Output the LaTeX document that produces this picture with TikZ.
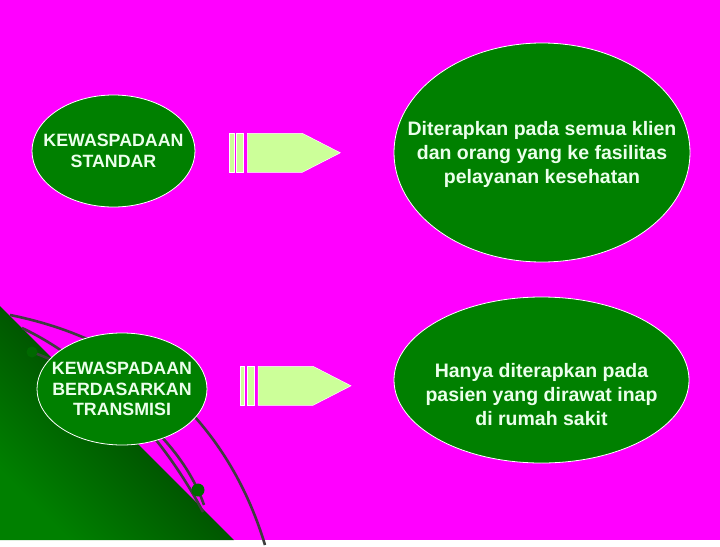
\documentclass[tikz,border=0pt]{standalone}
\usepackage{fontspec}
\setmainfont{Liberation Sans}
\usetikzlibrary{calc,shapes.geometric}
\definecolor{latar}{RGB}{255,0,255}
\definecolor{hijau}{RGB}{0,128,0}
\definecolor{hijautua}{RGB}{0,46,0}
\definecolor{hijaumuda}{RGB}{204,255,153}
\definecolor{teks}{RGB}{235,255,235}
\definecolor{garis}{RGB}{62,62,62}
\definecolor{titik}{RGB}{0,105,0}
\tikzset{
  bubble/.style={ellipse, fill=hijau, draw=white, line width=0.8pt, inner sep=0pt},
  tekskiri/.style={text=teks, align=center, font=\fontsize{17.8}{20.5}\selectfont\bfseries},
  tekskanan/.style={text=teks, align=center, font=\fontsize{19.5}{24}\selectfont\bfseries},
  panah/.style={fill=hijaumuda, draw=white, line width=0.5pt},
  lengkung/.style={draw=garis, line width=2.6pt}
}
\def\blockarrow(#1,#2){%
  \draw[panah] (#1,#2-19.5) rectangle ++(4.5,39);
  \draw[panah] (#1+7,#2-19.5) rectangle ++(7,39);
  \draw[panah] (#1+18,#2-19.5) -- ++(55,0) -- (#1+111,#2) -- (#1+73,#2+19.5) -- ++(-55,0) -- cycle;
}

\begin{document}
\begin{tikzpicture}[x=1pt, y=-1pt]
		%%%%% START %%%%%
		\fill[latar] (0,0) rectangle (720,540);
		
		\shade[bottom color=hijau, middle color=hijautua, top color=hijautua, shading angle=-45] (0,306) -- (234,540) -- (0,540) -- cycle;
		
		\draw[lengkung] (10,315) .. controls (160,345) and (235,445) .. (265,545);
		\draw[lengkung] (22,328) .. controls (90,360) and (160,430) .. (203,512);
		\draw[lengkung] (32,352) .. controls (95,375) and (178,430) .. (204,505);
		\fill[titik] (32,352) circle (5.5);
		\fill[titik] (198,490) circle (6.5);
		
		\node[bubble, minimum width=163, minimum height=112, label={[tekskiri]center:{KEWASPADAAN\\STANDAR}}] (standar) at (113.5,151) {};
		\node[bubble, minimum width=170, minimum height=112, label={[tekskiri]center:{KEWASPADAAN\\BERDASARKAN\\TRANSMISI}}] (transmisi) at (122,389) {};
		
		\node[bubble, minimum width=296, minimum height=219, label={[tekskanan, yshift=-1.5pt]center:{Diterapkan pada semua klien\\dan orang yang ke fasilitas\\pelayanan kesehatan}}] (semua) at (542,152.5) {};
		\node[bubble, minimum width=295, minimum height=166, label={[tekskanan, yshift=-15pt]center:{Hanya diterapkan pada\\pasien yang dirawat inap\\di rumah sakit}}] (rawat) at (541.5,380) {};
		
		\blockarrow(229.3,152.8)
		\blockarrow(240,385.8)
		%%%%% END %%%%%
\end{tikzpicture}
\end{document}
